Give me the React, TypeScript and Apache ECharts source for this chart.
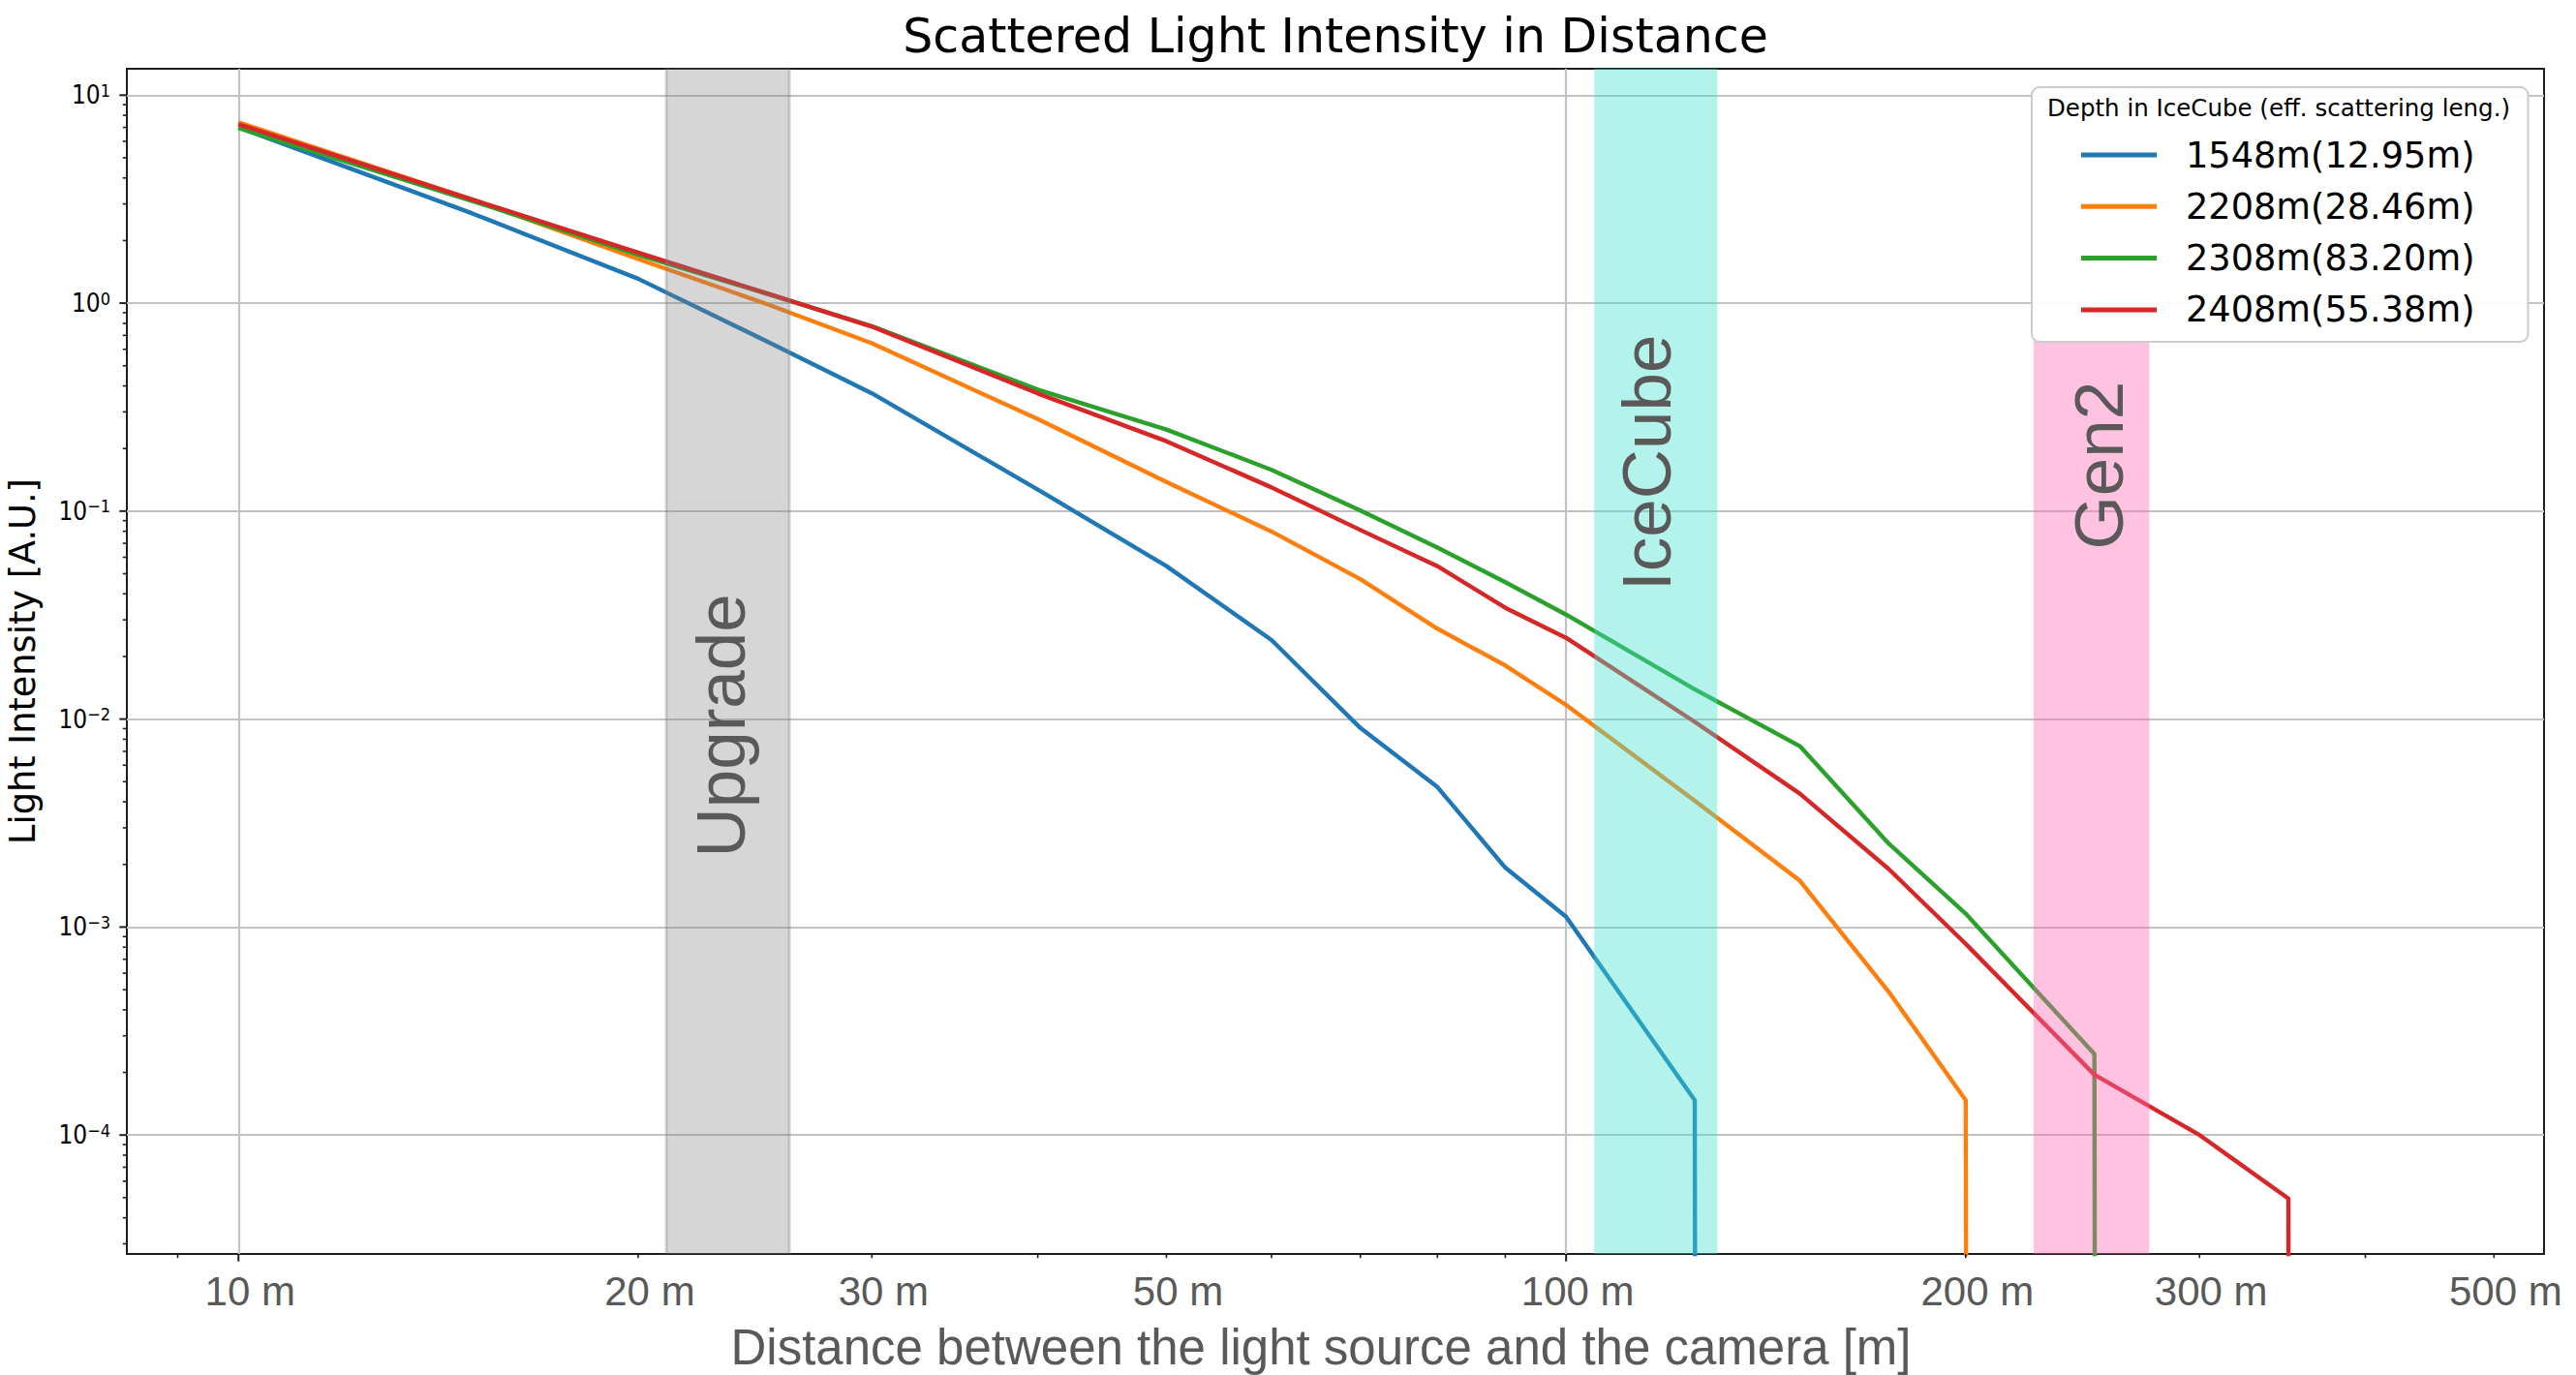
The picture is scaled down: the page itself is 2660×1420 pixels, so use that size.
import React, { useEffect, useRef } from 'react';
import * as echarts from 'echarts';

// ---------------- data ----------------
const distances = [10, 15, 20, 25, 30, 40, 50, 60, 70, 80, 90, 100, 125, 150, 175, 200, 250, 300, 350, 400];
const seriesNames = ['1548m(12.95m)', '2208m(28.46m)', '2308m(83.20m)', '2408m(55.38m)'];
const seriesColors = ['#1f77b4', '#ff7f0e', '#2ca02c', '#d62728'];
const intensity1548 = [7.0, 2.7, 1.31, 0.655, 0.3685, 0.127, 0.0544, 0.024, 0.00906, 0.00471, 0.00193, 0.00112, 0.000147, 0, 0, 0, 0, 0, 0, 0];
const intensity2208 = [7.4, 3.15, 1.63, 0.99, 0.641, 0.277, 0.138, 0.0798, 0.0471, 0.0272, 0.0181, 0.0117, 0.00405, 0.00167, 0.000488, 0.000147, 0, 0, 0, 0];
const intensity2308 = [6.95, 3.1, 1.71, 1.11, 0.775, 0.384, 0.2466, 0.158, 0.1007, 0.0668, 0.0455, 0.0318, 0.0139, 0.00741, 0.00252, 0.00116, 0.000245, 0, 0, 0];
const intensity2408 = [7.25, 3.15, 1.75, 1.115, 0.771, 0.368, 0.2168, 0.13, 0.0811, 0.0544, 0.0343, 0.0246, 0.0097, 0.00438, 0.0019, 0.00083, 0.000195, 0.0001, 0.0000495, 0];

const bandLabels = ['Upgrade', 'IceCube', 'Gen2'];
const bandStarts = [21, 105, 225];
const bandEnds = [26, 130, 275];
const bandTops = [13.4, 13.4, 0.66];
const bandLabelX = [23.1, 115, 252];
const bandLabelY = [0.0093, 0.171, 0.166];
const bandFills = ['rgba(128,128,128,0.32)', 'rgba(64,224,208,0.4)', 'rgba(255,105,180,0.4)'];
const bandEdges = [true, false, false];

const xTickValues = [10, 20, 30, 50, 100, 200, 300, 500];
const xTickLabels = ['10 m', '20 m', '30 m', '50 m', '100 m', '200 m', '300 m', '500 m'];
const xMajorTicks = [10, 100];
const xMinorTicks = [9, 20, 30, 40, 50, 60, 70, 80, 90, 200, 300, 400, 500];
const yMajorExponents = [-4, -3, -2, -1, 0, 1];
const yMinorMultipliers = [2, 3, 4, 5, 6, 7, 8, 9];
const yMinorDecades = [-5, -4, -3, -2, -1, 0, 1];

const X_MIN = 8.24;
const X_MAX = 545.3;
const Y_MIN = 2.68e-5;
const Y_MAX = 13.4;

const legendTitle = 'Depth in IceCube (eff. scattering leng.)';
const chartTitle = 'Scattered Light Intensity in Distance';
const xTitle = 'Distance between the light source and the camera [m]';
const yTitle = 'Light Intensity [A.U.]';

// ---------------- helpers ----------------
const ZERO_ON_LOG = 1e-300; // zero intensity shown as a drop to -infinity on the log axis
function buildLine(values: number[]) {
  const out: number[][] = [];
  for (let k = 0; k < distances.length; k++) {
    const v = values[k];
    out.push([distances[k], v > 0 ? v : ZERO_ON_LOG]);
    if (!(v > 0)) break;
  }
  return out;
}

const NARROW = '"Liberation Sans Narrow", "DejaVu Sans Condensed", "Liberation Sans", sans-serif';
const ARIAL = '"Liberation Sans", Arial, sans-serif';
const DEJAVU = '"DejaVu Sans", sans-serif';
const GRAYTXT = '#595959';

export default function App() {
  const ref = useRef<HTMLDivElement>(null);

  useEffect(() => {
    document.body.style.margin = '0';
    if (!ref.current) return;
    const chart = echarts.init(ref.current, null, { renderer: 'svg' });

    const allValues = [intensity1548, intensity2208, intensity2308, intensity2408];

    const yTickData: number[][] = [];
    yMajorExponents.forEach((e) => yTickData.push([X_MIN, Math.pow(10, e), 1]));
    yMinorDecades.forEach((e) =>
      yMinorMultipliers.forEach((m) => {
        const v = m * Math.pow(10, e);
        if (v > Y_MIN && v < Y_MAX) yTickData.push([X_MIN, v, 0]);
      })
    );
    const xTickData: number[][] = [];
    xMajorTicks.forEach((v) => xTickData.push([v, Y_MIN, 1]));
    xMinorTicks.forEach((v) => xTickData.push([v, Y_MIN, 0]));

    const lineSeries = seriesNames.map((name, i) => ({
      type: 'line',
      name,
      data: buildLine(allValues[i]),
      color: seriesColors[i],
      showSymbol: false,
      symbol: 'none',
      clip: true,
      z: 2,
      lineStyle: { width: 4.4, color: seriesColors[i], join: 'round', cap: 'butt' },
      itemStyle: { color: seriesColors[i] },
      emphasis: { disabled: true },
    }));

    const option: any = {
      animation: false,
      backgroundColor: '#ffffff',
      grid: {
        left: 131,
        right: 33,
        top: 71,
        bottom: 125,
        show: true,
        borderColor: '#1e1e1e',
        borderWidth: 2,
        backgroundColor: 'transparent',
      },
      xAxis: {
        type: 'log',
        logBase: 10,
        min: X_MIN,
        max: X_MAX,
        axisLine: { show: false },
        axisTick: { show: false },
        axisLabel: { show: false },
        splitLine: { show: true, showMinLine: false, showMaxLine: false, lineStyle: { color: '#c2c2c2', width: 2.2 } },
      },
      yAxis: {
        type: 'log',
        logBase: 10,
        min: Y_MIN,
        max: Y_MAX,
        axisLine: { show: false },
        axisTick: { show: false },
        splitLine: { show: true, showMinLine: false, showMaxLine: false, lineStyle: { color: '#c2c2c2', width: 2.2 } },
        axisLabel: {
          show: true,
          margin: 17,
          showMinLabel: true,
          showMaxLabel: true,
          formatter: (v: number) => {
            const lg = Math.log10(v);
            const e = Math.round(lg);
            if (Math.abs(lg - e) > 1e-6) return '';
            const sup = e < 0 ? '\u2212' + String(-e) : String(e);
            return '{b|10}{s|' + sup + '}';
          },
          rich: {
            b: { fontFamily: NARROW, fontSize: 26, lineHeight: 28, color: '#000' },
            s: { fontFamily: NARROW, fontSize: 18, lineHeight: 18, color: '#000', verticalAlign: 'top' },
          },
        },
      },
      legend: {
        data: seriesNames.map((n) => ({ name: n, icon: 'rect' })),
        orient: 'vertical',
        left: 2098,
        top: 90,
        itemWidth: 78,
        itemHeight: 5,
        itemGap: 13.3,
        padding: [50, 55, 13, 51],
        backgroundColor: 'rgba(255,255,255,0.92)',
        borderColor: '#cccccc',
        borderWidth: 2,
        borderRadius: 8,
        selectedMode: false,
        z: 6,
        textStyle: { fontFamily: DEJAVU, fontSize: 36.7, color: '#000', lineHeight: 40, padding: [0, 0, 0, 25] },
      },
      graphic: [
        {
          type: 'text', x: 1379, y: 37, z: 100,
          style: { text: chartTitle, fontFamily: DEJAVU, fontSize: 49, fill: '#000', align: 'center', verticalAlign: 'middle', textAlign: 'center', textVerticalAlign: 'middle' },
        },
        {
          type: 'text', x: 1364, y: 1391, z: 100,
          style: { text: xTitle, fontFamily: ARIAL, fontSize: 51, fill: GRAYTXT, align: 'center', verticalAlign: 'middle', textAlign: 'center', textVerticalAlign: 'middle' },
        },
        {
          type: 'text', x: 23, y: 683, z: 100, rotation: Math.PI / 2,
          style: { text: yTitle, fontFamily: DEJAVU, fontSize: 36.7, fill: '#000', align: 'center', verticalAlign: 'middle', textAlign: 'center', textVerticalAlign: 'middle' },
        },
        {
          type: 'text', x: 2353, y: 111, z: 100,
          style: { text: legendTitle, fontFamily: DEJAVU, fontSize: 24.5, fill: '#000', align: 'center', verticalAlign: 'middle', textAlign: 'center', textVerticalAlign: 'middle' },
        },
      ],
      series: [
        ...lineSeries,
        {
          type: 'custom',
          name: 'bands',
          coordinateSystem: 'cartesian2d',
          silent: true,
          clip: false,
          z: 3,
          encode: { x: [0, 1, 2], y: [3, 4] },
          data: bandLabels.map((_, i) => [bandStarts[i], bandEnds[i], bandLabelX[i], bandLabelY[i], bandTops[i]]),
          renderItem: (params: any, api: any) => {
            const i = params.dataIndex;
            const cs = params.coordSys;
            const x0 = api.coord([api.value(0), Y_MAX])[0];
            const x1 = api.coord([api.value(1), Y_MAX])[0];
            const yTop = Math.max(cs.y, api.coord([api.value(0), api.value(4)])[1]);
            const yBot = cs.y + cs.height;
            const lp = api.coord([api.value(2), api.value(3)]);
            const children: any[] = [
              { type: 'rect', shape: { x: x0, y: yTop, width: x1 - x0, height: yBot - yTop }, style: { fill: bandFills[i] } },
            ];
            if (bandEdges[i]) {
              children.push({ type: 'line', shape: { x1: x0, y1: yTop, x2: x0, y2: yBot }, style: { stroke: bandFills[i], lineWidth: 3 } });
              children.push({ type: 'line', shape: { x1: x1, y1: yTop, x2: x1, y2: yBot }, style: { stroke: bandFills[i], lineWidth: 3 } });
            }
            children.push({
              type: 'text', x: lp[0], y: lp[1], rotation: Math.PI / 2,
              style: { text: bandLabels[i], fontFamily: ARIAL, fontSize: 71, fill: GRAYTXT, align: 'center', verticalAlign: 'middle', textAlign: 'center', textVerticalAlign: 'middle' },
            });
            return { type: 'group', children };
          },
        },
        {
          type: 'custom',
          name: 'yticks',
          coordinateSystem: 'cartesian2d',
          silent: true,
          clip: false,
          z: 5,
          encode: { x: 0, y: 1 },
          data: yTickData,
          renderItem: (params: any, api: any) => {
            const cs = params.coordSys;
            const y = api.coord([X_MIN, api.value(1)])[1];
            const major = api.value(2) === 1;
            const len = major ? 7.7 : 4.2;
            return { type: 'line', shape: { x1: cs.x - len, y1: y, x2: cs.x, y2: y }, style: { stroke: '#1e1e1e', lineWidth: major ? 2 : 1.6 } };
          },
        },
        {
          type: 'custom',
          name: 'xticks',
          coordinateSystem: 'cartesian2d',
          silent: true,
          clip: false,
          z: 5,
          encode: { x: 0, y: 1 },
          data: xTickData,
          renderItem: (params: any, api: any) => {
            const cs = params.coordSys;
            const x = api.coord([api.value(0), Y_MIN])[0];
            const major = api.value(2) === 1;
            const len = major ? 7.7 : 4.2;
            const yb = cs.y + cs.height;
            return { type: 'line', shape: { x1: x, y1: yb, x2: x, y2: yb + len }, style: { stroke: '#1e1e1e', lineWidth: major ? 2 : 1.6 } };
          },
        },
        {
          type: 'custom',
          name: 'xlabels',
          coordinateSystem: 'cartesian2d',
          silent: true,
          clip: false,
          z: 5,
          encode: { x: 0, y: 1 },
          data: xTickValues.map((v) => [v, Y_MIN]),
          renderItem: (params: any, api: any) => {
            const cs = params.coordSys;
            const x = api.coord([api.value(0), Y_MIN])[0];
            return {
              type: 'text', x: x + 12, y: cs.y + cs.height + 38,
              style: { text: xTickLabels[params.dataIndex], fontFamily: ARIAL, fontSize: 42, fill: GRAYTXT, align: 'center', verticalAlign: 'middle', textAlign: 'center', textVerticalAlign: 'middle' },
            };
          },
        },
      ],
    };

    chart.setOption(option);
    return () => chart.dispose();
  }, []);

  return <div ref={ref} style={{ position: 'fixed', left: 0, top: 0, width: 2660, height: 1420, background: '#ffffff' }} />;
}
